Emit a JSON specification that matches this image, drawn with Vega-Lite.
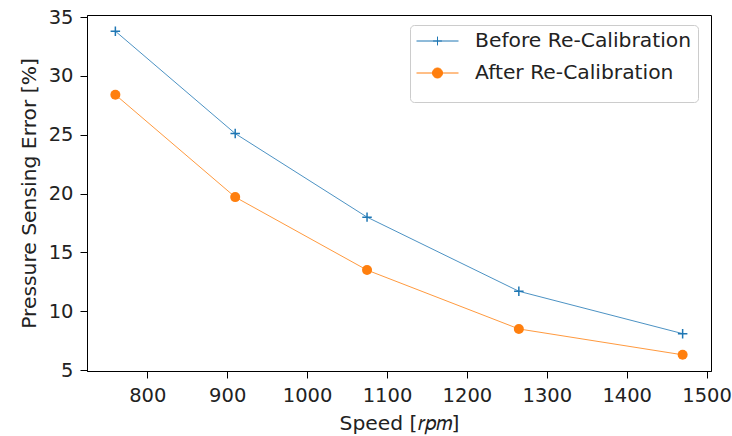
{
  "$schema": "https://vega.github.io/schema/vega-lite/v6.json",
  "width": 624,
  "height": 356,
  "autosize": {"type": "none"},
  "padding": {"left": 87, "top": 15, "right": 21, "bottom": 65},
  "background": "white",
  "config": {
    "font": "DejaVu Sans",
    "view": {"stroke": "black", "strokeWidth": 1},
    "axis": {
      "grid": false,
      "domainColor": "black",
      "tickColor": "black",
      "tickSize": 7,
      "labelColor": "#222222",
      "labelFontSize": 19.5,
      "titleFontSize": 20.3,
      "titleFontWeight": "normal",
      "titleColor": "#222222"
    }
  },
  "data": {
    "values": [
      {"speed": 760, "error": 33.8, "series": "Before Re-Calibration"},
      {"speed": 910, "error": 25.1, "series": "Before Re-Calibration"},
      {"speed": 1075, "error": 18.0, "series": "Before Re-Calibration"},
      {"speed": 1265, "error": 11.7, "series": "Before Re-Calibration"},
      {"speed": 1470, "error": 8.1, "series": "Before Re-Calibration"},
      {"speed": 760, "error": 28.4, "series": "After Re-Calibration"},
      {"speed": 910, "error": 19.7, "series": "After Re-Calibration"},
      {"speed": 1075, "error": 13.5, "series": "After Re-Calibration"},
      {"speed": 1265, "error": 8.5, "series": "After Re-Calibration"},
      {"speed": 1470, "error": 6.3, "series": "After Re-Calibration"}
    ]
  },
  "encoding": {
    "x": {
      "field": "speed",
      "type": "quantitative",
      "scale": {"domain": [724.5, 1505.5], "nice": false, "zero": false},
      "axis": {"values": [800, 900, 1000, 1100, 1200, 1300, 1400, 1500], "format": "d", "title": "Speed [𝑟𝑝𝑚]", "labelPadding": 8, "titlePadding": 9}
    },
    "y": {
      "field": "error",
      "type": "quantitative",
      "scale": {"domain": [4.925, 35.175], "nice": false, "zero": false},
      "axis": {"values": [5, 10, 15, 20, 25, 30, 35], "format": "d", "title": "Pressure Sensing Error [%]", "labelPadding": 7, "titlePadding": 9}
    }
  },
  "layer": [
    {
      "transform": [{"filter": "datum.series === 'Before Re-Calibration'"}],
      "mark": {"type": "line", "strokeWidth": 1, "color": "#1f77b4", "opacity": 0.8}
    },
    {
      "transform": [{"filter": "datum.series === 'After Re-Calibration'"}],
      "mark": {"type": "line", "strokeWidth": 1, "color": "#ff7f0e", "opacity": 0.8}
    },
    {
      "transform": [{"filter": "datum.series === 'Before Re-Calibration'"}],
      "mark": {"type": "point", "shape": "M-1,0L1,0M0,-1L0,1", "filled": false, "stroke": "#1f77b4", "strokeWidth": 1.5, "size": 90, "opacity": 1}
    },
    {
      "transform": [{"filter": "datum.series === 'After Re-Calibration'"}],
      "mark": {"type": "circle", "color": "#ff7f0e", "size": 100, "opacity": 1}
    },
    {
      "transform": [{"filter": "datum.series === 'none'"}],
      "mark": {"type": "point", "filled": true, "strokeWidth": 1, "opacity": 1},
      "encoding": {
        "color": {
          "field": "series",
          "type": "nominal",
          "scale": {"domain": ["Before Re-Calibration", "After Re-Calibration"], "range": ["#1f77b4", "#ff7f0e"]},
          "legend": {
            "title": " ",
            "titleOrient": "bottom",
            "titleFontSize": 12,
            "titlePadding": 2,
            "orient": "none",
            "legendX": 323,
            "legendY": 10,
            "direction": "vertical",
            "fillColor": "rgba(255,255,255,0.8)",
            "strokeColor": "#cccccc",
            "cornerRadius": 4,
            "padding": 6,
            "labelFontSize": 20.3,
            "labelColor": "#222222",
            "labelLimit": 300,
            "labelOffset": 16,
            "symbolSize": 1764,
            "symbolStrokeWidth": 1,
            "symbolOpacity": 1,
            "clipHeight": 20,
            "rowPadding": 11
          }
        },
        "stroke": {
          "field": "series",
          "type": "nominal",
          "scale": {"domain": ["Before Re-Calibration", "After Re-Calibration"], "range": ["#1f77b4", "#ff7f0e"]}
        },
        "shape": {
          "field": "series",
          "type": "nominal",
          "scale": {"domain": ["Before Re-Calibration", "After Re-Calibration"], "range": ["M-1,0L1,0M0,-0.21L0,0.21M-0.21,0L0.21,0", "M-1,0L1,0M-0.24,0A0.24,0.24 0 1,1 0.24,0A0.24,0.24 0 1,1 -0.24,0Z"]}
        }
      }
    }
  ]
}
